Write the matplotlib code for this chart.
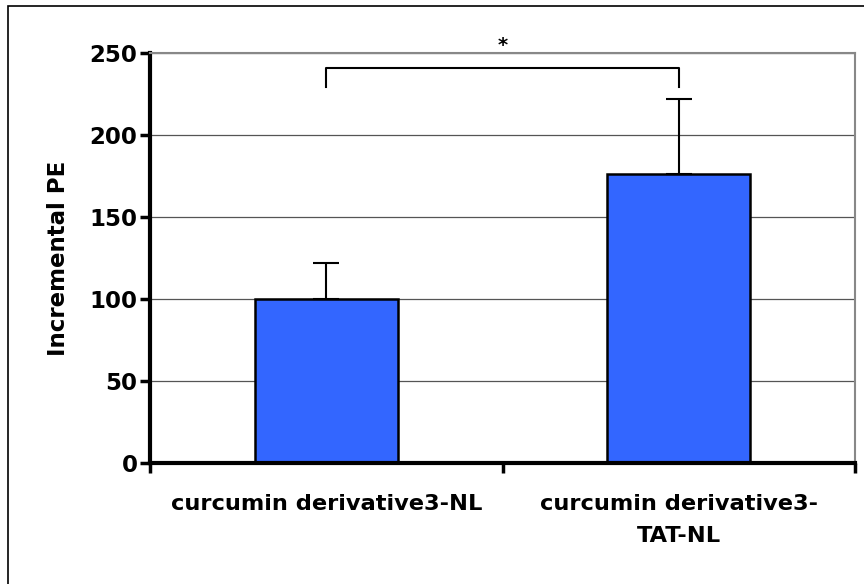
import matplotlib.pyplot as plt
from matplotlib.patches import Rectangle

plt.rcParams["font.family"] = ["DejaVu Sans"]
plt.rcParams["font.weight"] = "bold"

categories = ["curcumin derivative3-NL", "curcumin derivative3-\nTAT-NL"]
means = [100.0, 176.0]
errors = [22.0, 46.0]
y_ticks = [0, 50, 100, 150, 200, 250]

# significance bracket (data units)
bracket_top = 241.0
bracket_bottom = 229.5
star_y = 249.0


def main() -> None:
    fig = plt.figure(figsize=(8.64, 5.84), dpi=100)
    ax = fig.add_axes([0.1736, 0.207, 0.8160, 0.702])

    # outer chart border (right/bottom run off the canvas like the original)
    fig.patches.append(
        Rectangle((8 / 864, -0.05), 1.0, 1 - 6 / 584 + 0.05,
                  transform=fig.transFigure, fill=False,
                  edgecolor="black", linewidth=1.2)
    )

    x = [0.5, 1.5]
    ax.bar(x, means, width=0.405, color="#3366FF", edgecolor="black",
           linewidth=1.8, zorder=3)
    ax.errorbar(x, means, yerr=[[0, 0], errors], fmt="none", ecolor="black",
                elinewidth=1.5, capsize=9.5, capthick=1.5, zorder=4)

    # bracket and asterisk
    ax.plot([x[0], x[0], x[1], x[1]],
            [bracket_bottom, bracket_top, bracket_top, bracket_bottom],
            color="black", linewidth=1.5, clip_on=False, zorder=5)
    ax.text(1.0, star_y, "*", ha="center", va="bottom", fontsize=14,
            fontweight="bold", clip_on=False)

    ax.set_xlim(0, 2)
    ax.set_ylim(0, 250)
    ax.set_yticks(y_ticks)
    ax.set_xticks([0, 1, 2])
    ax.set_xticklabels([])
    ax.set_xticks(x, minor=True)
    ax.set_xticklabels(categories, minor=True, fontsize=16.2, fontweight="bold",
                       linespacing=1.75)
    ax.tick_params(axis="x", which="minor", length=0, pad=22)
    ax.tick_params(axis="x", which="major", length=7, width=2.5, direction="out")
    ax.tick_params(axis="y", length=7, width=2.5, direction="out",
                   labelsize=16.5, pad=2)
    for lbl in ax.get_yticklabels():
        lbl.set_fontweight("bold")

    ax.grid(axis="y", color="#555555", linewidth=0.9, zorder=0)
    ax.set_axisbelow(True)

    ax.spines["left"].set_linewidth(3)
    ax.spines["bottom"].set_linewidth(3)
    ax.spines["top"].set_color("#888888")
    ax.spines["right"].set_color("#888888")
    ax.spines["top"].set_linewidth(1.5)
    ax.spines["right"].set_linewidth(1.5)
    ax.spines["bottom"].set_zorder(6)

    ax.set_ylabel("Incremental PE", fontsize=16.5, fontweight="bold", labelpad=14)

    fig.savefig("out.png", dpi=100)


if __name__ == "__main__":
    main()
